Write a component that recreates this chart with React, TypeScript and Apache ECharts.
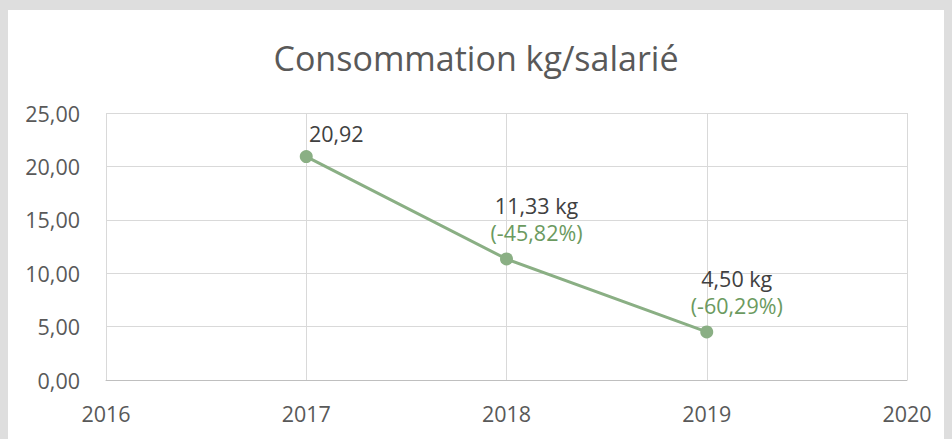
import React, { useEffect, useRef } from "react";
import * as echarts from "echarts";

const years = [2017, 2018, 2019];
const values = [20.92, 11.33, 4.5];
const changes: (number | null)[] = [null, -45.82, -60.29];
const units = ["", " kg", " kg"];
const xTicks = [2016, 2020];
const yTicks = [0, 25, 5];

const fmt = (v: number) => v.toFixed(2).replace(".", ",");

export default function App() {
  const ref = useRef<HTMLDivElement>(null);
  useEffect(() => {
    if (!ref.current) return;
    const chart = echarts.init(ref.current, undefined, { renderer: "svg" });
    const font = "'Open Sans', 'Noto Sans', sans-serif";
    const data = years.map((y, i) => {
      const c = changes[i];
      const text =
        "{v|" + fmt(values[i]) + units[i] + "}" +
        (c !== null ? "\n{p|(" + fmt(c) + "%)}" : "");
      return {
        value: [y, values[i]],
        label: {
          show: true,
          position: "top",
          distance: c !== null ? 6 : 3,
          offset: [30, 0],
          formatter: text,
          rich: {
            v: { fontSize: 21.5, color: "#404040", fontFamily: font, lineHeight: 27 },
            p: { fontSize: 21.5, color: "#6b9a60", fontFamily: font, lineHeight: 27 },
          },
        },
      };
    });
    chart.setOption({
      animation: false,
      backgroundColor: "#ffffff",
      title: {
        text: "Consommation kg/salarié",
        left: "center",
        top: 26,
        textStyle: { fontSize: 34, fontWeight: "normal", color: "#595959", fontFamily: font },
      },
      grid: { left: 98, right: 37, top: 103, bottom: 59 },
      xAxis: {
        type: "value",
        min: xTicks[0],
        max: xTicks[1],
        interval: 1,
        axisLine: { show: true, lineStyle: { color: "#bfbfbf", width: 1 } },
        axisTick: { show: false },
        splitLine: { show: true, lineStyle: { color: "#d9d9d9", width: 1 } },
        axisLabel: {
          fontSize: 21.5,
          color: "#595959",
          fontFamily: font,
          margin: 22,
          formatter: (v: number) => String(v),
        },
      },
      yAxis: {
        type: "value",
        min: yTicks[0],
        max: yTicks[1],
        interval: yTicks[2],
        axisLine: { show: false },
        axisTick: { show: false },
        splitLine: { show: true, lineStyle: { color: "#d9d9d9", width: 1 } },
        axisLabel: {
          fontSize: 21.5,
          color: "#595959",
          fontFamily: font,
          margin: 26,
          formatter: (v: number) => fmt(v),
        },
      },
      series: [
        {
          type: "line",
          data,
          symbol: "circle",
          symbolSize: 13,
          lineStyle: { color: "#8aaf84", width: 3 },
          itemStyle: { color: "#8aaf84" },
        },
      ],
    });
    return () => chart.dispose();
  }, []);
  return (
    <div
      style={{
        position: "fixed",
        left: 0,
        top: 0,
        width: 952,
        height: 439,
        background: "#dedede",
        overflow: "hidden",
      }}
    >
      <div
        ref={ref}
        style={{ position: "absolute", left: 8, top: 10, width: 936, height: 429 }}
      />
    </div>
  );
}
